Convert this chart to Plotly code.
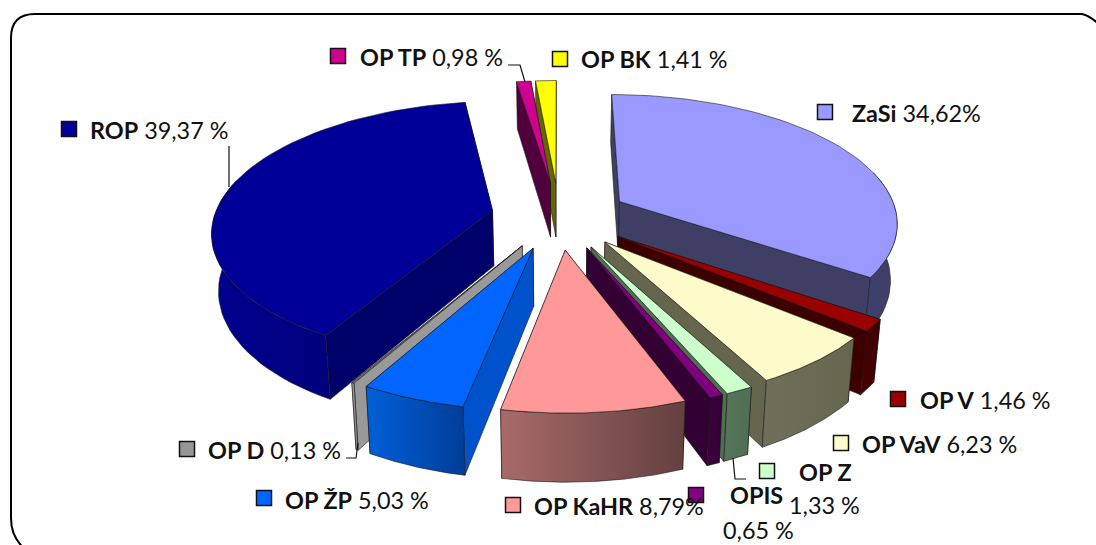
import numpy as np
import plotly.graph_objects as go

# ---- data (clockwise from 12 o'clock) ----
names = ["ZaSi", "OP V", "OP VaV", "OP Z", "OPIS", "OP KaHR", "OP ŽP", "OP D", "ROP", "OP TP", "OP BK"]
shares = [34.62, 1.46, 6.23, 1.33, 0.65, 8.79, 5.03, 0.13, 39.37, 0.98, 1.41]
value_labels = ["34,62%", "1,46 %", "6,23 %", "1,33 %", "0,65 %", "8,79%", "5,03 %", "0,13 %", "39,37 %", "0,98 %", "1,41 %"]
explode = [0.25, 0.26, 0.255, 0.26, 0.26, 0.26, 0.26, 0.26, 0.245, 0.27, 0.27]
top_colors = ["#9999ff", "#990000", "#fdfbc9", "#ccffcc", "#800080", "#ff9999", "#0066ff", "#969696", "#000099", "#d00090", "#ffff00"]
side_colors = ["#3f3f66", "#3d0000", "#66664f", "#4f6e52", "#330033", "#663d3d", "#0052cc", "#999999", "#00006b", "#52003d", "#666600"]
wall_left = ["#3f3f70", "#4a0000", "#70705a", "#55755a", "#3d003d", "#a86a6a", "#0060d8", "#a0a0a0", "#000090", "#52003d", "#666600"]
wall_right = ["#3f3f66", "#3d0000", "#66664f", "#4f6e52", "#330033", "#644040", "#003d99", "#808080", "#00007c", "#52003d", "#666600"]
draw_order = ["OP BK", "OP TP", "ZaSi", "OP V", "OP VaV", "OP Z", "OPIS", "ROP", "OP D", "OP ŽP", "OP KaHR"]

# ---- projection of the tilted pie ----
CX, CY, AX, BY, PERSP, DEPTH, SHRINK = 559, 216, 278, 127, 0.15, 56, 0.98


def project(X, Y, bottom=False):
    s = 1 / (1 + PERSP * Y)
    x = AX * X * s
    y = CY - BY * Y * s
    if bottom:
        return CX + x * SHRINK, y + DEPTH * s
    return CX + x, y


fig = go.Figure()


def poly(xs, ys, fill, c2=None):
    kw = dict(fillcolor=fill)
    if c2 is not None:
        kw = dict(fillgradient=dict(type="horizontal", colorscale=[[0, fill], [1, c2]]))
    fig.add_trace(go.Scatter(x=list(xs) + [xs[0]], y=list(ys) + [ys[0]], mode="lines", fill="toself",
                             line=dict(color="#1a1a1a", width=0.6), hoverinfo="skip", showlegend=False, **kw))


cum = np.cumsum([0] + shares) / sum(shares) * 2 * np.pi
index = {n: i for i, n in enumerate(names)}
for name in draw_order:
    i = index[name]
    a0, a1 = cum[i], cum[i + 1]
    mid = (a0 + a1) / 2
    ex, ey = explode[i] * np.sin(mid), explode[i] * np.cos(mid)
    th = np.linspace(a0, a1, 60)
    X, Y = ex + np.sin(th), ey + np.cos(th)
    tx, ty = project(X, Y)
    bx, by = project(X, Y, True)
    ax, ay = project(ex, ey)
    abx, aby = project(ex, ey, True)
    # radial walls: the one that faces away is painted first
    ends = [0, -1] if mid < np.pi else [-1, 0]
    for e in ends:
        poly([ax, tx[e], bx[e], abx], [ay, ty[e], by[e], aby], side_colors[i])
    # outer wall: only the part that faces the viewer
    front = np.cos(th) < 0.25
    if front.any():
        fx, fy, gx, gy = tx[front], ty[front], bx[front], by[front]
        poly(list(fx) + list(gx[::-1]), list(fy) + list(gy[::-1]), wall_left[i], wall_right[i])
    # top surface
    poly([ax] + list(tx), [ay] + list(ty), top_colors[i])

# ---- legend keys placed at the labels ----
key_x = [825, 898, 841, 767, 696, 513, 264, 187, 69, 338, 560]
key_y = [112, 399, 443, 471, 495, 505, 498, 449, 129, 56, 59]
fig.add_trace(go.Scatter(x=key_x, y=key_y, mode="markers", hoverinfo="skip", showlegend=False,
                         marker=dict(symbol="square", size=15, color=top_colors,
                                     line=dict(color="#111111", width=1.5))))

# ---- labels ----
FONT = dict(family="Lato", size=23.4, color="#111111")
label_x = [852, 920, 862, 799, 730, 534, 285, 208, 90, 360, 581]
label_y = [113, 400, 444, 472, 495, 506, 500, 450, 130, 57, 59]
second_line = {"OP Z": (789, 505), "OPIS": (723, 530)}
for i, n in enumerate(names):
    if n in second_line:
        fig.add_annotation(x=label_x[i], y=label_y[i], text=f"<b>{n}</b>", showarrow=False,
                           xanchor="left", yanchor="middle", font=FONT, xshift=-2)
        sx, sy = second_line[n]
        fig.add_annotation(x=sx, y=sy, text=value_labels[i], showarrow=False,
                           xanchor="left", yanchor="middle", font=FONT, xshift=-2)
    else:
        fig.add_annotation(x=label_x[i], y=label_y[i], text=f"<b>{n}</b> {value_labels[i]}", showarrow=False,
                           xanchor="left", yanchor="middle", font=FONT, xshift=-2)

# ---- leader lines ----
leaders = [
    "M229,146 L229,187",
    "M508,65 L520,65 L525,82",
    "M733,458 L735,479 L746,479",
    "M346,458 L356,458 L358,443",
]
shapes = [dict(type="path", path=p, line=dict(color="#111111", width=1.2), layer="above") for p in leaders]
shapes.append(dict(type="path", layer="below", line=dict(color="#000000", width=2),
                   path="M26,550 Q11,538 11,518 L11,38 Q11,14 35,14 L1082,14 Q1090,16 1100,25"))

fig.update_layout(
    width=1096, height=545, margin=dict(l=0, r=0, t=0, b=0),
    paper_bgcolor="white", plot_bgcolor="white", showlegend=False, shapes=shapes,
    xaxis=dict(range=[0, 1096], visible=False, fixedrange=True),
    yaxis=dict(range=[545, 0], visible=False, fixedrange=True),
)
fig.write_html("out.html", config={"displayModeBar": False},
               post_script="document.body.style.margin='0';document.documentElement.style.overflow='hidden';")
